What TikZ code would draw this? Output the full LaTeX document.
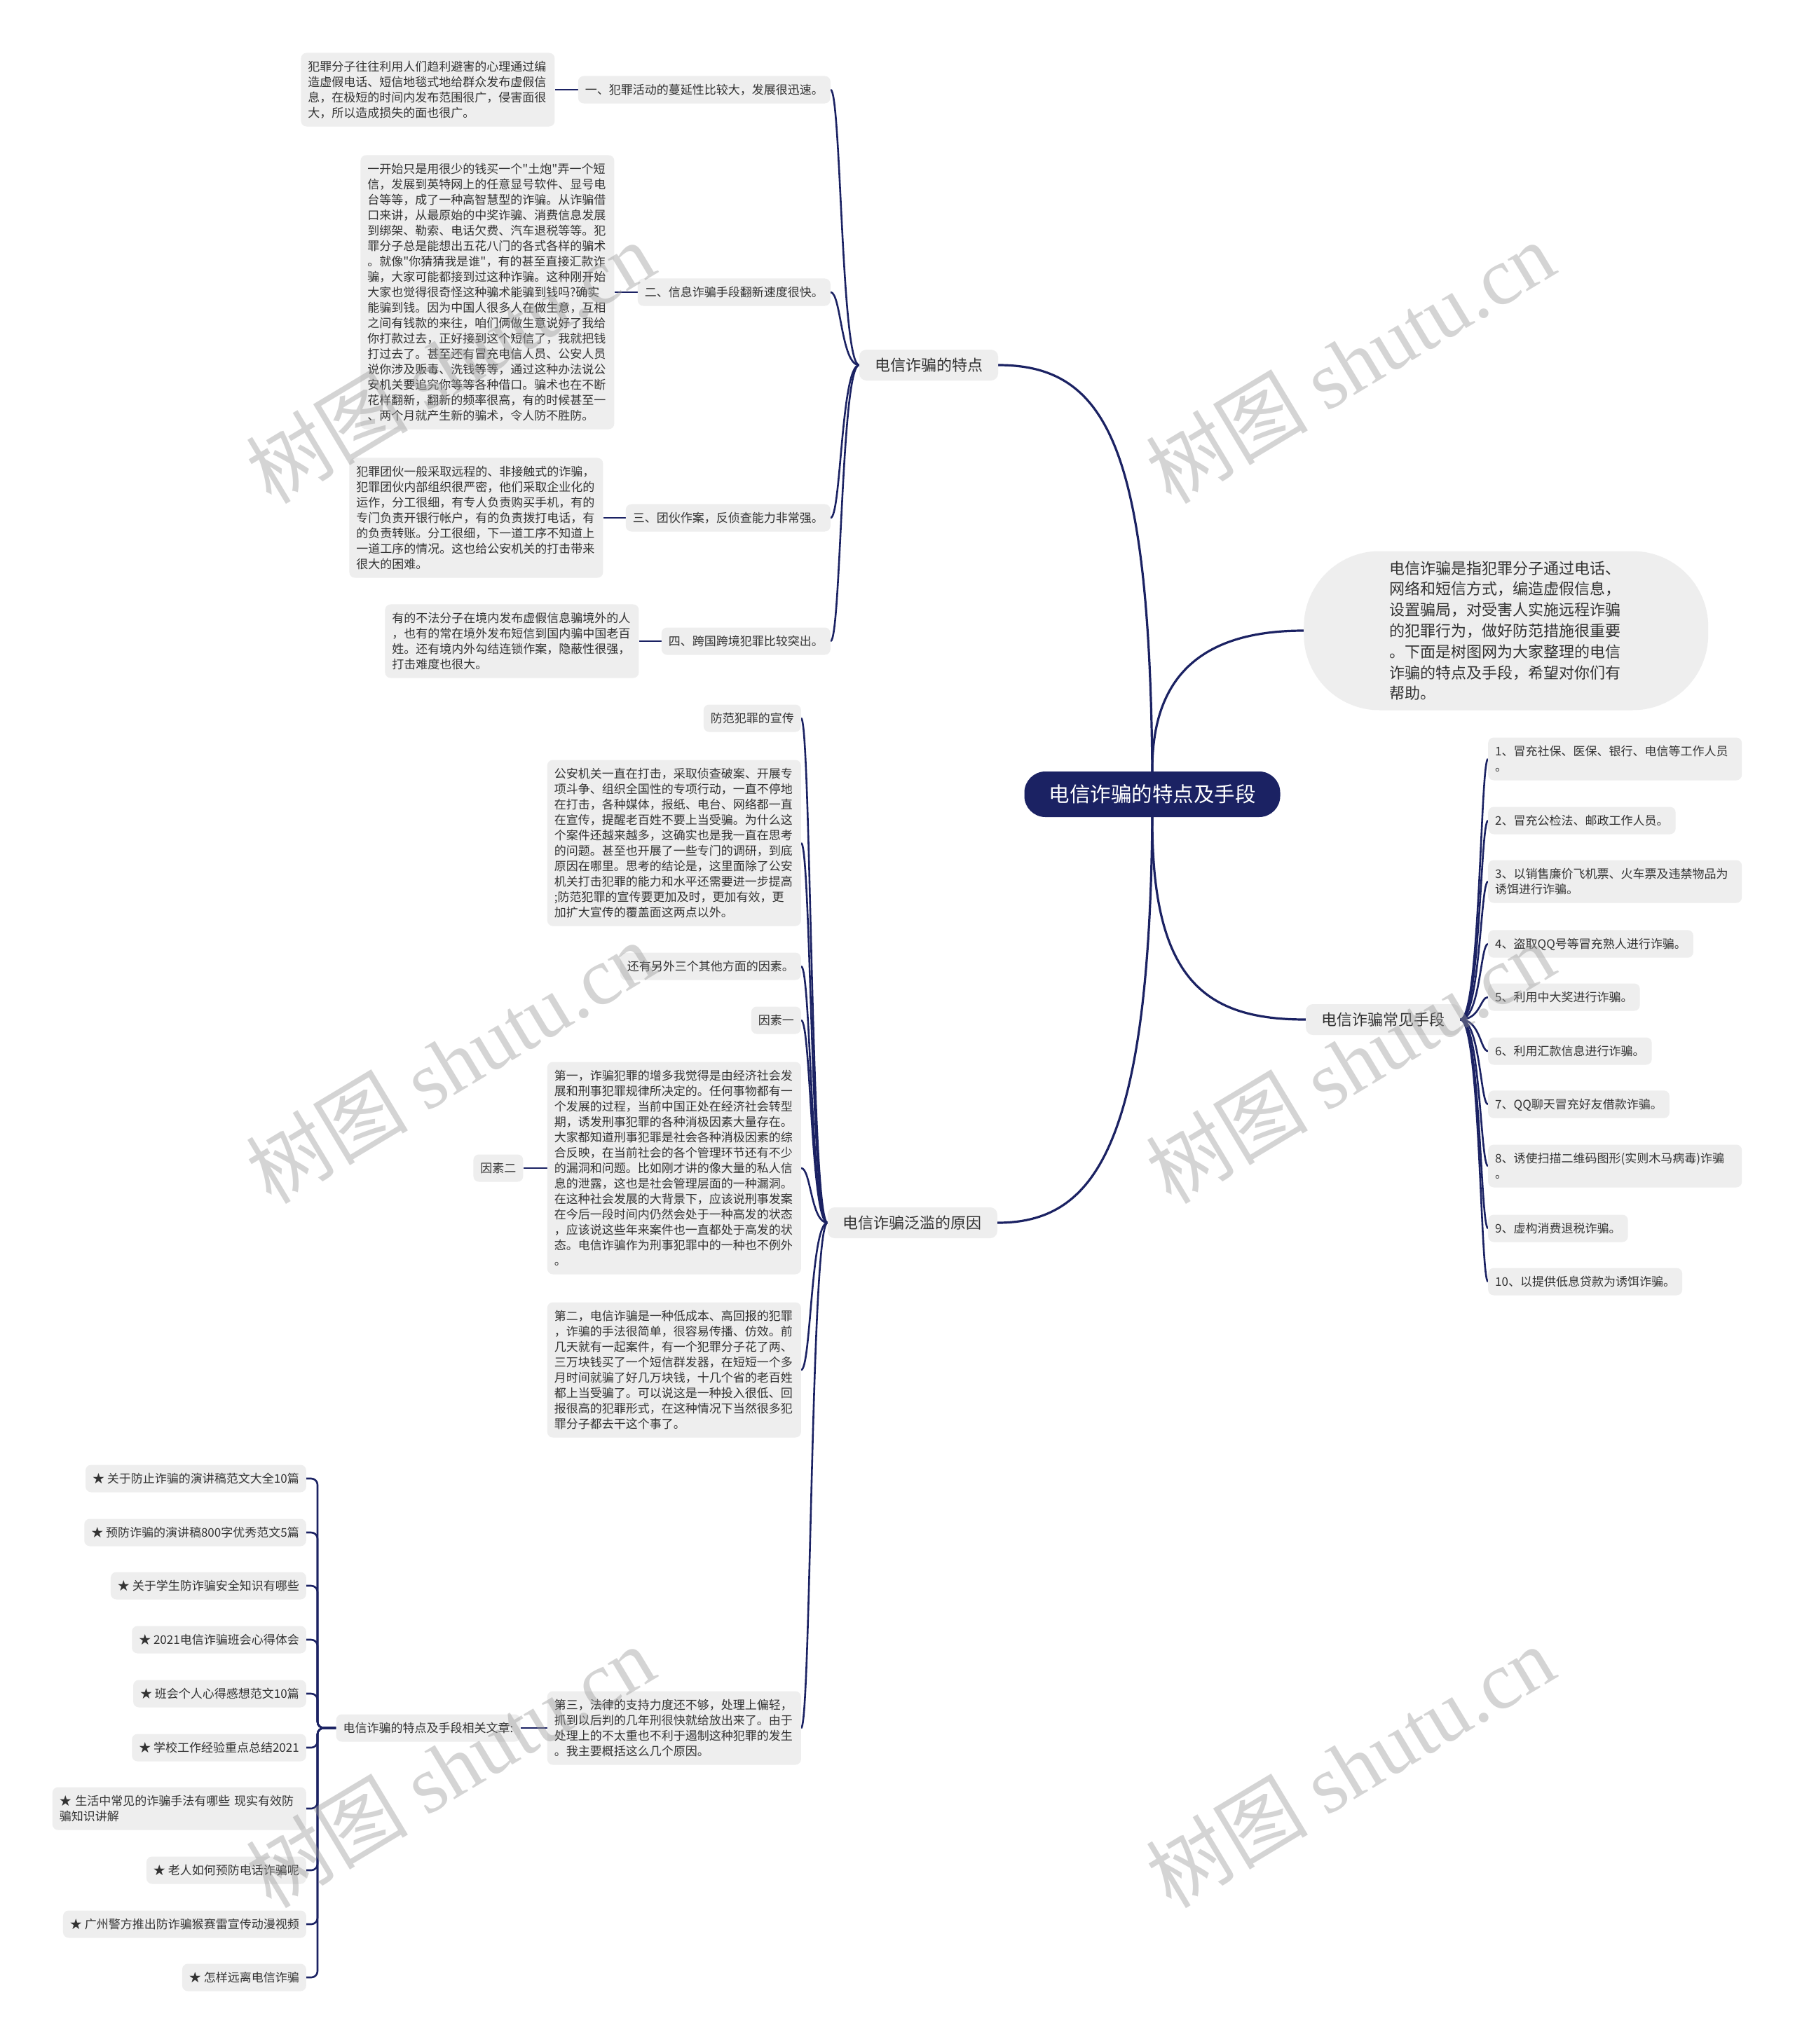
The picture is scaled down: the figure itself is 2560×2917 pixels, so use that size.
\documentclass[tikz,border=0pt]{standalone}
\usepackage{fontspec}
\setmainfont{Noto Sans CJK SC}
\newfontfamily\plaincjk{Noto Sans CJK SC}
\newfontfamily\wmlatin{Liberation Serif}
\usetikzlibrary{backgrounds}
\definecolor{navy}{HTML}{1B2263}
\definecolor{boxg}{HTML}{EEEEEE}
\definecolor{txtc}{HTML}{333333}
\definecolor{wmc}{HTML}{9A9A9A}
\newcommand\mystrut{\rule[-0.16em]{0pt}{1.06em}}
\begin{document}
\begin{tikzpicture}[x=1pt,y=-1pt,
  small/.style={fill=boxg, rounded corners=8pt, text=txtc, font=\fontsize{17}{22}\selectfont, align=left, inner xsep=10pt, inner ysep=10.5pt, execute at begin node=\mystrut, execute at end node=\mystrut},
  wide/.style={small, text width=342pt},
  branch/.style={fill=boxg, rounded corners=10pt, text=txtc, font=\fontsize{22}{26}\selectfont, inner xsep=22pt, inner ysep=0pt, minimum height=44pt},
  mainline/.style={draw=navy, line width=3.2pt},
  kid/.style={draw=navy, line width=2.6pt},
  wmark/.style={rotate=31, text=wmc, opacity=0.42, font=\fontsize{116}{120}\selectfont, inner sep=0pt}
]
\useasboundingbox (0,0) rectangle (2560,2917);

% ---------- centre and description ----------
\node[fill=navy, text=white, rounded corners=30pt, font=\fontsize{29.5}{32}\selectfont, minimum height=65pt, inner xsep=35pt, inner ysep=0pt] (ctr) at (1644,1133.5) {电信诈骗的特点及手段};

\node[fill=boxg, rounded corners=108pt, minimum width=577pt, minimum height=227pt, text width=332pt, align=left, text=txtc, font=\fontsize{22}{29.8}\selectfont, inner sep=0pt, anchor=west] (desc) at (1860,900) {电信诈骗是指犯罪分子通过电话、\\%
网络和短信方式，编造虚假信息，\\%
设置骗局，对受害人实施远程诈骗\\%
的犯罪行为，做好防范措施很重要\\%
。下面是树图网为大家整理的电信\\%
诈骗的特点及手段，希望对你们有\\%
帮助。};

% ---------- branches ----------
\node[branch] (b1) at (1325,521) {电信诈骗的特点};
\node[branch, anchor=west] (b2) at (1863,1455) {电信诈骗常见手段};
\node[branch, anchor=east] (b3) at (1423,1745) {电信诈骗泛滥的原因};

% ---------- branch 1 children ----------
\node[small, anchor=east] (c1) at (1185,128) {一、犯罪活动的蔓延性比较大，发展很迅速。};
\node[small, anchor=east] (c2) at (1185,417) {二、信息诈骗手段翻新速度很快。};
\node[small, anchor=east] (c3) at (1185,739) {三、团伙作案，反侦查能力非常强。};
\node[small, anchor=east] (c4) at (1185,915) {四、跨国跨境犯罪比较突出。};

\node[wide, anchor=east] (l1) at ([xshift=-33pt]c1.west) {犯罪分子往往利用人们趋利避害的心理通过编\\%
造虚假电话、短信地毯式地给群众发布虚假信\\%
息，在极短的时间内发布范围很广，侵害面很\\%
大，所以造成损失的面也很广。};

\node[wide, anchor=east, font=\plaincjk\fontsize{17}{22}\selectfont] (l2) at ([xshift=-33pt]c2.west) {一开始只是用很少的钱买一个"土炮"弄一个短\\%
信，发展到英特网上的任意显号软件、显号电\\%
台等等，成了一种高智慧型的诈骗。从诈骗借\\%
口来讲，从最原始的中奖诈骗、消费信息发展\\%
到绑架、勒索、电话欠费、汽车退税等等。犯\\%
罪分子总是能想出五花八门的各式各样的骗术\\%
。就像"你猜猜我是谁"，有的甚至直接汇款诈\\%
骗，大家可能都接到过这种诈骗。这种刚开始\\%
大家也觉得很奇怪这种骗术能骗到钱吗?确实\\%
能骗到钱。因为中国人很多人在做生意，互相\\%
之间有钱款的来往，咱们俩做生意说好了我给\\%
你打款过去，正好接到这个短信了，我就把钱\\%
打过去了。甚至还有冒充电信人员、公安人员\\%
说你涉及贩毒、洗钱等等，通过这种办法说公\\%
安机关要追究你等等各种借口。骗术也在不断\\%
花样翻新，翻新的频率很高，有的时候甚至一\\%
、两个月就产生新的骗术，令人防不胜防。};

\node[wide, anchor=east] (l3) at ([xshift=-32pt]c3.west) {犯罪团伙一般采取远程的、非接触式的诈骗，\\%
犯罪团伙内部组织很严密，他们采取企业化的\\%
运作，分工很细，有专人负责购买手机，有的\\%
专门负责开银行帐户，有的负责拨打电话，有\\%
的负责转账。分工很细，下一道工序不知道上\\%
一道工序的情况。这也给公安机关的打击带来\\%
很大的困难。};

\node[wide, anchor=east] (l4) at ([xshift=-32pt]c4.west) {有的不法分子在境内发布虚假信息骗境外的人\\%
，也有的常在境外发布短信到国内骗中国老百\\%
姓。还有境内外勾结连锁作案，隐蔽性很强，\\%
打击难度也很大。};

% ---------- branch 2 children ----------
\node[wide, anchor=west] (m1) at (2123,1083) {1、冒充社保、医保、银行、电信等工作人员\\。};
\node[small, anchor=west] (m2) at (2123,1171) {2、冒充公检法、邮政工作人员。};
\node[wide, anchor=west] (m3) at (2123,1258) {3、以销售廉价飞机票、火车票及违禁物品为\\诱饵进行诈骗。};
\node[small, anchor=west] (m4) at (2123,1347) {4、盗取QQ号等冒充熟人进行诈骗。};
\node[small, anchor=west] (m5) at (2123,1423) {5、利用中大奖进行诈骗。};
\node[small, anchor=west] (m6) at (2123,1500) {6、利用汇款信息进行诈骗。};
\node[small, anchor=west] (m7) at (2123,1576) {7、QQ聊天冒充好友借款诈骗。};
\node[wide, anchor=west] (m8) at (2123,1664) {8、诱使扫描二维码图形(实则木马病毒)诈骗\\。};
\node[small, anchor=west] (m9) at (2123,1753) {9、虚构消费退税诈骗。};
\node[small, anchor=west] (m10) at (2123,1829) {10、以提供低息贷款为诱饵诈骗。};

% ---------- branch 3 children ----------
\node[small, anchor=east] (d1) at (1143,1025) {防范犯罪的宣传};
\node[wide, anchor=east] (d2) at (1143,1203) {公安机关一直在打击，采取侦查破案、开展专\\%
项斗争、组织全国性的专项行动，一直不停地\\%
在打击，各种媒体，报纸、电台、网络都一直\\%
在宣传，提醒老百姓不要上当受骗。为什么这\\%
个案件还越来越多，这确实也是我一直在思考\\%
的问题。甚至也开展了一些专门的调研，到底\\%
原因在哪里。思考的结论是，这里面除了公安\\%
机关打击犯罪的能力和水平还需要进一步提高\\%
;防范犯罪的宣传要更加及时，更加有效，更\\%
加扩大宣传的覆盖面这两点以外。};
\node[small, anchor=east] (d3) at (1143,1379) {还有另外三个其他方面的因素。};
\node[small, anchor=east] (d4) at (1143,1456) {因素一};
\node[wide, anchor=east] (d5) at (1143,1667) {第一，诈骗犯罪的增多我觉得是由经济社会发\\%
展和刑事犯罪规律所决定的。任何事物都有一\\%
个发展的过程，当前中国正处在经济社会转型\\%
期，诱发刑事犯罪的各种消极因素大量存在。\\%
大家都知道刑事犯罪是社会各种消极因素的综\\%
合反映，在当前社会的各个管理环节还有不少\\%
的漏洞和问题。比如刚才讲的像大量的私人信\\%
息的泄露，这也是社会管理层面的一种漏洞。\\%
在这种社会发展的大背景下，应该说刑事发案\\%
在今后一段时间内仍然会处于一种高发的状态\\%
，应该说这些年来案件也一直都处于高发的状\\%
态。电信诈骗作为刑事犯罪中的一种也不例外\\%
。};
\node[wide, anchor=east] (d6) at (1143,1955) {第二，电信诈骗是一种低成本、高回报的犯罪\\%
，诈骗的手法很简单，很容易传播、仿效。前\\%
几天就有一起案件，有一个犯罪分子花了两、\\%
三万块钱买了一个短信群发器，在短短一个多\\%
月时间就骗了好几万块钱，十几个省的老百姓\\%
都上当受骗了。可以说这是一种投入很低、回\\%
报很高的犯罪形式，在这种情况下当然很多犯\\%
罪分子都去干这个事了。};
\node[wide, anchor=east] (d7) at (1143,2466) {第三，法律的支持力度还不够，处理上偏轻，\\%
抓到以后判的几年刑很快就给放出来了。由于\\%
处理上的不太重也不利于遏制这种犯罪的发生\\%
。我主要概括这么几个原因。};

\node[small, anchor=east] (yin2) at ([xshift=-34pt]d5.west) {因素二};
\node[small, anchor=east] (rel) at ([xshift=-38pt]d7.west) {电信诈骗的特点及手段相关文章:};

% ---------- related articles ----------
\node[small, anchor=east] (r1) at (437,2110) {★ 关于防止诈骗的演讲稿范文大全10篇};
\node[small, anchor=east] (r2) at (437,2187) {★ 预防诈骗的演讲稿800字优秀范文5篇};
\node[small, anchor=east] (r3) at (437,2263) {★ 关于学生防诈骗安全知识有哪些};
\node[small, anchor=east] (r4) at (437,2340) {★ 2021电信诈骗班会心得体会};
\node[small, anchor=east] (r5) at (437,2417) {★ 班会个人心得感想范文10篇};
\node[small, anchor=east] (r6) at (437,2494) {★ 学校工作经验重点总结2021};
\node[wide, anchor=east] (r7) at (437,2581) {★ 生活中常见的诈骗手法有哪些 现实有效防\\骗知识讲解};
\node[small, anchor=east] (r8) at (437,2669) {★ 老人如何预防电话诈骗呢};
\node[small, anchor=east] (r9) at (437,2746) {★ 广州警方推出防诈骗猴赛雷宣传动漫视频};
\node[small, anchor=east] (r10) at (437,2822) {★ 怎样远离电信诈骗};

% ---------- spines ----------
\coordinate (s1) at (1200,0);
\coordinate (s2) at (2112,0);
\coordinate (s3) at (1157,0);
\coordinate (s4) at (453,0);

\begin{pgfonlayer}{background}
\fill[white] (0,0) rectangle (2560,2917);
\draw[mainline] (ctr.north) .. controls (1640,640) and (1580,521) .. (b1.east);
\draw[mainline] (ctr.north) .. controls (1643,960) and (1720,900) .. (desc.west);
\draw[mainline] (ctr.south) .. controls (1643,1400) and (1720,1455) .. (b2.west);
\draw[mainline] (ctr.south) .. controls (1640,1640) and (1560,1745) .. (b3.east);

\foreach \q in {c1,c2,c3,c4}
  \draw[kid] (b1.west) .. controls (b1.west -| s1) and (\q.east -| s1) .. (\q.east);
\foreach \q in {m1,m2,m3,m4,m5,m6,m7,m8,m9,m10}
  \draw[kid] (b2.east) .. controls (b2.east -| s2) and (\q.west -| s2) .. (\q.west);
\foreach \q in {d1,d2,d3,d4,d5,d6,d7}
  \draw[kid] (b3.west) .. controls (b3.west -| s3) and (\q.east -| s3) .. (\q.east);
\foreach \q in {r1,r2,r3,r4,r5,r6,r7,r8,r9,r10}
  \draw[kid, rounded corners=9pt] (rel.west) -- (rel.west -| s4) |- (\q.east);

\draw[kid] (l1.east) -- (c1.west);
\draw[kid] (l2.east) -- (c2.west);
\draw[kid] (l3.east) -- (c3.west);
\draw[kid] (l4.east) -- (c4.west);
\draw[kid] (d5.west) -- (yin2.east);
\draw[kid] (d7.west) -- (rel.east);
\end{pgfonlayer}

% ---------- watermarks ----------
\foreach \wx/\wy/\wn in {642/517/w1, 1926/517/w2, 642/1516/w3, 1926/1516/w4, 642/2521/w5, 1926/2521/w6}
  \node[wmark] (\wn) at (\wx,\wy) {树图 {\wmlatin shutu.cn}};
\end{tikzpicture}
\end{document}
